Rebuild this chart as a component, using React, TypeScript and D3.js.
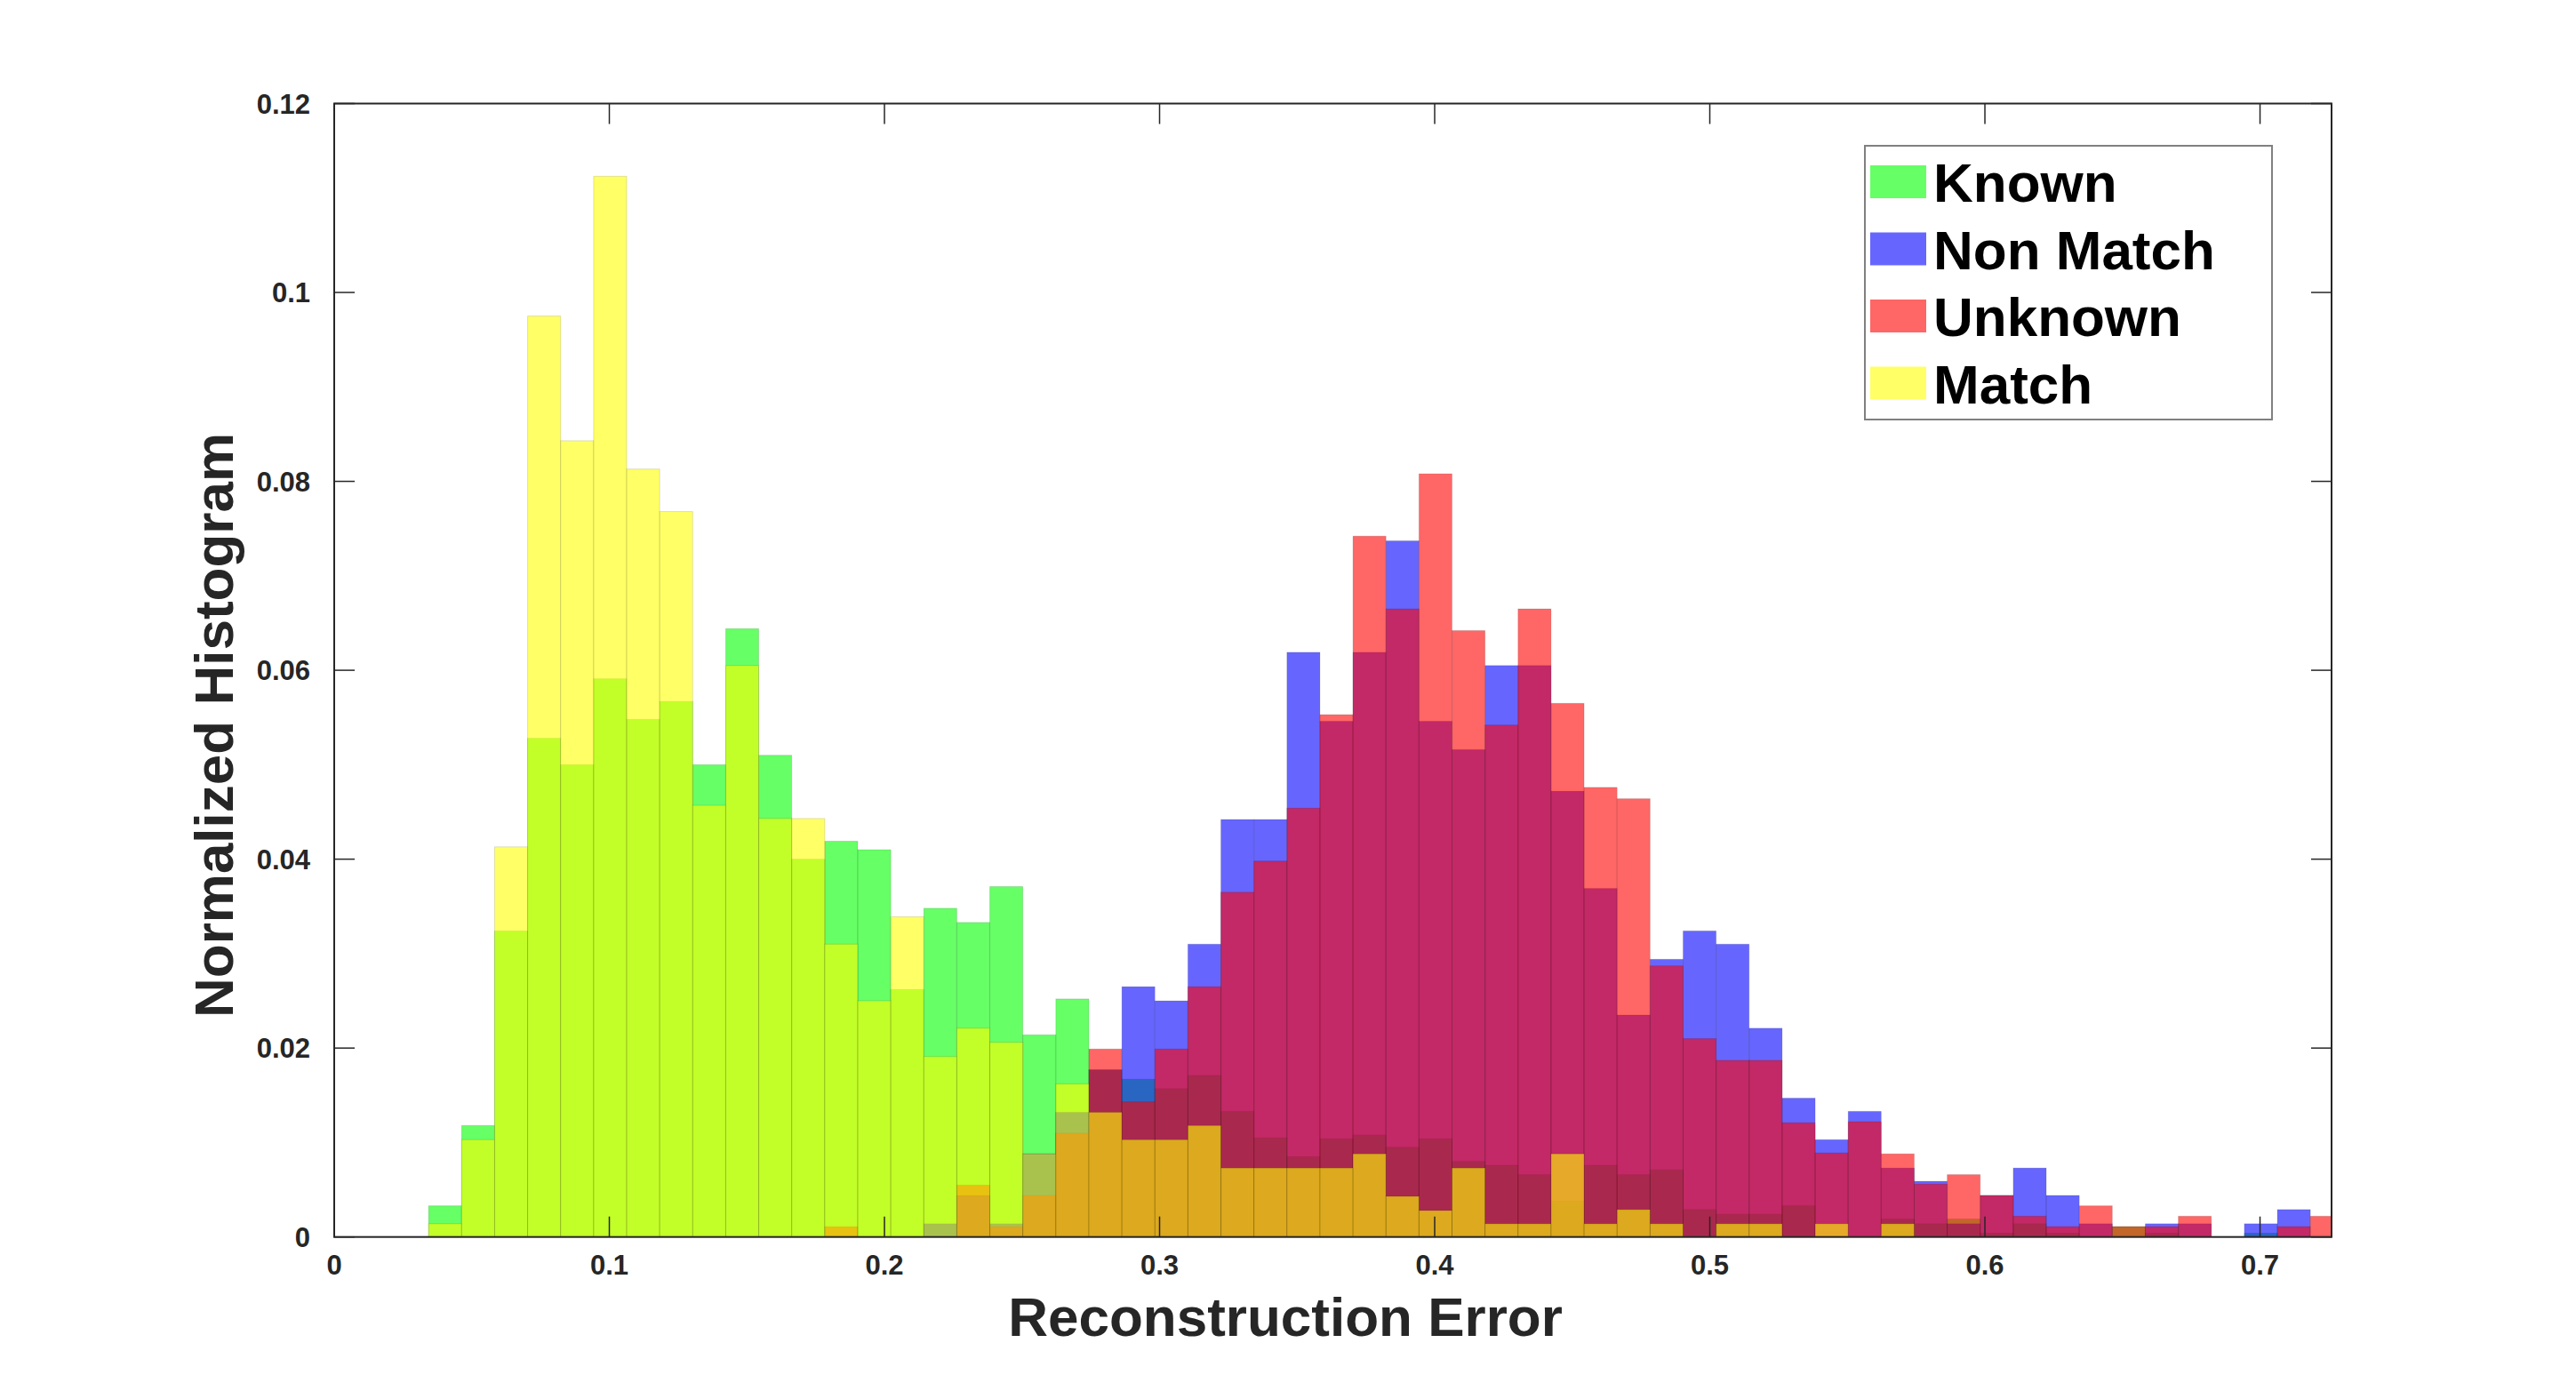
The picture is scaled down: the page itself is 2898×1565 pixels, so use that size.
import React from "react";
import * as d3 from "d3";

const BIN_START = 0.0343;
const BIN_WIDTH = 0.012;

const known = [
  0.0033, 0.0118, 0.0324, 0.0528, 0.05, 0.0591, 0.0548, 0.0567, 0.05, 0.0644,
  0.051, 0.04, 0.0419, 0.041, 0.0262, 0.0348, 0.0333, 0.0371, 0.0214, 0.0252,
  0.0177, 0.0167, 0.0157, 0.0171, 0.0133, 0.0105, 0.0085, 0.0104, 0.0108, 0.0095,
  0.0104, 0.008, 0.0076, 0.0066, 0.0038, 0.0076, 0.0066, 0.0071, 0.0029, 0.0024,
  0.0024, 0.0033, 0, 0, 0.0019, 0.0014, 0.0019, 0.0004, 0.0014, 0.0004,
  0, 0.0011, 0.0004, 0, 0, 0.0004, 0, 0,
];

const nonMatch = [
  0, 0, 0, 0, 0, 0, 0, 0, 0, 0,
  0, 0, 0, 0, 0, 0.0014, 0.0044, 0.0014, 0.0088, 0.0132,
  0.0177, 0.0265, 0.025, 0.031, 0.0442, 0.0442, 0.0619, 0.0546, 0.0619, 0.0737,
  0.0546, 0.0516, 0.0605, 0.0605, 0.0472, 0.0369, 0.0235, 0.0294, 0.0324, 0.031,
  0.0221, 0.0147, 0.0103, 0.0133, 0.0073, 0.0059, 0.0014, 0.0044, 0.0073, 0.0044,
  0.0014, 0, 0.0014, 0.0014, 0, 0.0014, 0.0029, 0,
];

const unknown = [
  0, 0, 0, 0, 0, 0, 0, 0, 0, 0,
  0, 0, 0.0011, 0, 0, 0, 0.0055, 0.0011, 0.0044, 0.011,
  0.0199, 0.0143, 0.0199, 0.0265, 0.0365, 0.0398, 0.0454, 0.0553, 0.0742, 0.0665,
  0.0808, 0.0642, 0.0542, 0.0665, 0.0565, 0.0476, 0.0464, 0.0287, 0.021, 0.0187,
  0.0187, 0.0121, 0.0089, 0.0122, 0.0088, 0.0056, 0.0066, 0.0044, 0.0022, 0.0011,
  0.0033, 0.0011, 0.0011, 0.0022, 0, 0, 0.0011, 0.0022,
];

const match = [
  0.0014, 0.0103, 0.0413, 0.0975, 0.0843, 0.1123, 0.0813, 0.0768, 0.0457, 0.0605,
  0.0443, 0.0443, 0.031, 0.025, 0.0339, 0.0191, 0.0221, 0.0206, 0.0088, 0.0162,
  0.0132, 0.0103, 0.0103, 0.0118, 0.0073, 0.0073, 0.0073, 0.0073, 0.0088, 0.0043,
  0.0028, 0.0073, 0.0014, 0.0014, 0.0088, 0.0014, 0.0029, 0.0014, 0, 0.0014,
  0.0014, 0, 0.0014, 0, 0.0014, 0, 0, 0, 0, 0,
  0, 0, 0, 0, 0, 0, 0, 0,
];

const seriesNames = ["Known", "Non Match", "Unknown", "Match"];
const seriesColors = ["#00ff00", "#0000ff", "#ff0000", "#ffff00"];
const seriesValues = [known, nonMatch, unknown, match];

const xTicks = [0, 0.1, 0.2, 0.3, 0.4, 0.5, 0.6, 0.7];
const yTicks = [0, 0.02, 0.04, 0.06, 0.08, 0.1, 0.12];

const W = 2898;
const H = 1565;
const L = 376;
const R = 2623;
const T = 116.5;
const B = 1391.7;
const AX = "#262626";
const FONT = "'Liberation Sans', Arial, Helvetica, sans-serif";

export default function App() {
  const x = d3.scaleLinear().domain([0, 0.726]).range([L, R]);
  const y = d3.scaleLinear().domain([0, 0.12]).range([B, T]);
  const tickLen = 23;
  const fmt = (v: number) => String(+v.toFixed(2));

  return (
    <svg
      width={W}
      height={H}
      style={{ position: "absolute", left: 0, top: 0, background: "#fff" }}
      fontFamily={FONT}
    >
      <rect x={0} y={0} width={W} height={H} fill="#fff" />
      <defs>
        <clipPath id="plotclip">
          <rect x={L} y={T} width={R - L} height={B - T} />
        </clipPath>
      </defs>
      <g clipPath="url(#plotclip)">
        {seriesValues.map((vals, si) => (
          <g key={si}>
            {vals.map((v, i) => {
              if (v <= 0) return null;
              const x0 = BIN_START + i * BIN_WIDTH;
              const x1 = x0 + BIN_WIDTH;
              return (
                <rect
                  key={i}
                  x={x(x0)}
                  y={y(v)}
                  width={x(x1) - x(x0)}
                  height={y(0) - y(v)}
                  fill={seriesColors[si]}
                  fillOpacity={0.6}
                  stroke="#000"
                  strokeOpacity={0.12}
                  strokeWidth={1}
                />
              );
            })}
          </g>
        ))}
      </g>
      {/* box */}
      <rect x={L} y={T} width={R - L} height={B - T} fill="none" stroke={AX} strokeWidth={2} />
      {/* x ticks */}
      {xTicks.map((t) => (
        <g key={"xt" + t}>
          <line x1={x(t)} x2={x(t)} y1={B} y2={B - tickLen} stroke={AX} strokeWidth={1.5} />
          <line x1={x(t)} x2={x(t)} y1={T} y2={T + tickLen} stroke={AX} strokeWidth={1.5} />
          <text
            x={x(t)}
            y={B + 42}
            textAnchor="middle"
            fontSize={31}
            fontWeight="bold"
            fill={AX}
          >
            {fmt(t)}
          </text>
        </g>
      ))}
      {/* y ticks */}
      {yTicks.map((t) => (
        <g key={"yt" + t}>
          <line x1={L} x2={L + tickLen} y1={y(t)} y2={y(t)} stroke={AX} strokeWidth={1.5} />
          <line x1={R} x2={R - tickLen} y1={y(t)} y2={y(t)} stroke={AX} strokeWidth={1.5} />
          <text
            x={L - 27}
            y={y(t) + 11}
            textAnchor="end"
            fontSize={31}
            fontWeight="bold"
            fill={AX}
          >
            {fmt(t)}
          </text>
        </g>
      ))}
      {/* axis labels */}
      <text
        x={1446}
        y={1503}
        textAnchor="middle"
        fontSize={62}
        fontWeight="bold"
        fill={AX}
      >
        Reconstruction Error
      </text>
      <text
        transform={`translate(262, 816) rotate(-90)`}
        textAnchor="middle"
        fontSize={62}
        fontWeight="bold"
        fill={AX}
      >
        Normalized Histogram
      </text>
      {/* legend */}
      <rect x={2098} y={164} width={458} height={308} fill="#fff" stroke="#808080" strokeWidth={2} />
      {seriesNames.map((name, i) => (
        <g key={name}>
          <rect
            x={2104}
            y={186 + i * 75.5}
            width={63}
            height={37}
            fill={seriesColors[i]}
            fillOpacity={0.6}
          />
          <text x={2175} y={227 + i * 75.5} fontSize={62} fontWeight="bold" fill="#000">
            {name}
          </text>
        </g>
      ))}
    </svg>
  );
}
